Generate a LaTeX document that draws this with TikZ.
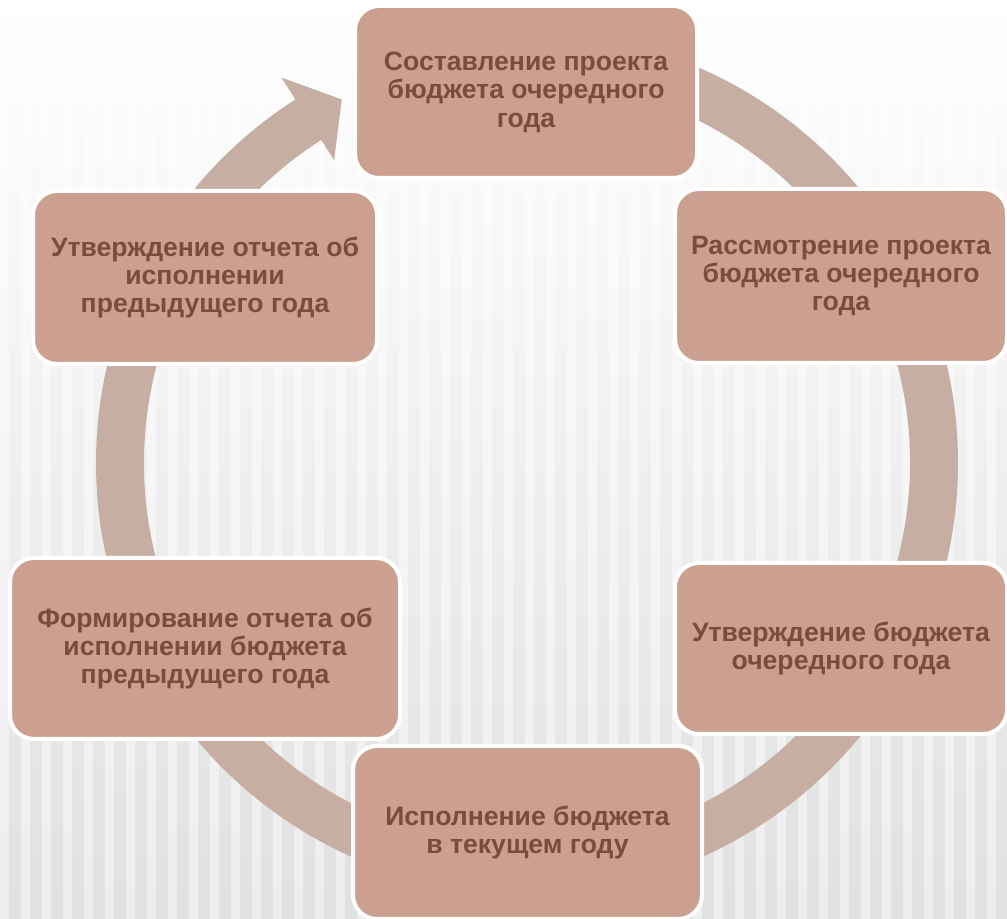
\documentclass[tikz,border=0pt]{standalone}
\usepackage{fontspec}
\setmainfont{Liberation Sans}

\definecolor{boxfill}{RGB}{204,160,144}
\definecolor{ringcol}{RGB}{198,174,163}
\definecolor{textcol}{RGB}{123,76,60}

\begin{document}
\begin{tikzpicture}[x=0.5pt,y=0.5pt,
  stage/.style={draw=white,line width=2pt,fill=boxfill,rounded corners=12pt,
    text=textcol,font=\bfseries\fontsize{13.3}{14.2}\selectfont,align=center,inner sep=0pt}]
  \useasboundingbox (0,0) rectangle (1007,919);
  \clip (0,0) rectangle (1007,919);

  \fill[top color=white,bottom color=gray!24] (0,0) rectangle (1007,919);
  \foreach \s in {0,21,...,1007}
    \fill[white,opacity=0.45] (\s,0) rectangle (\s+9,919);

  \fill[ringcol,shift={(527,456)}]
    (90:431) arc[start angle=90,end angle=-237.5,radius=431]
    -- (122.5:457) -- (117:408) -- (122.5:359) -- (122.5:383)
    arc[start angle=-237.5,end angle=90,radius=383] -- cycle;

  \foreach \name/\x/\y/\w/\h/\txt in {
      top/526/827/338/168/{Составление проекта\\бюджета очередного\\года},
      rtop/841/643/328/170/{Рассмотрение проекта\\бюджета очередного\\года},
      rbot/841/270.5/328/167/{Утверждение бюджета\\очередного года},
      bot/527.5/86.5/345/169/{Исполнение бюджета\\в текущем году},
      lbot/205/270.5/386/177/{Формирование отчета об\\исполнении бюджета\\предыдущего года},
      ltop/205/641.5/340/169/{Утверждение отчета об\\исполнении\\предыдущего года}} {
    \node[stage,minimum width=(\w+4)*0.5pt,minimum height=(\h+4)*0.5pt] (\name) at (\x,\y) {\txt};
  }
\end{tikzpicture}
\end{document}
